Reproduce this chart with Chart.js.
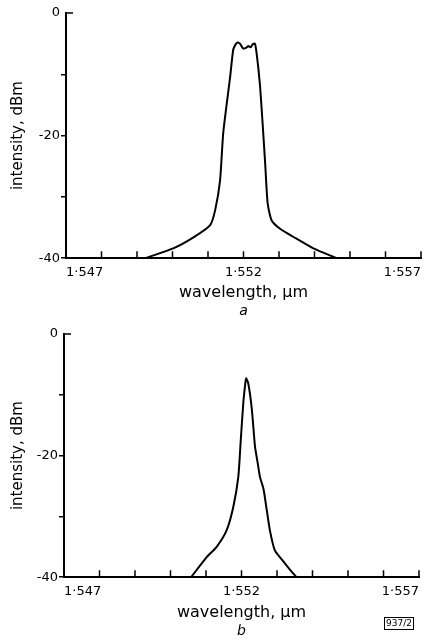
<!DOCTYPE html>
<html>
<head>
<meta charset="utf-8">
<script src="https://cdn.jsdelivr.net/npm/chart.js@4"></script>
<style>
  body { margin: 0; background: #fff; }
  .panel { position: absolute; left: 0; width: 433px; height: 320px; }
  #tag { position: absolute; left: 384px; top: 617px; border: 1px solid #000;
         font: 9px "DejaVu Sans", sans-serif; padding: 0 1px; line-height: 11px; }
</style>
</head>
<body>
<div class="panel" style="top:0"><canvas id="chartA" width="433" height="320"></canvas></div>
<div class="panel" style="top:320px"><canvas id="chartB" width="433" height="320"></canvas></div>
<div id="tag">937/2</div>
<script>
// wavelength in µm, intensity in dBm
const wavelengthA = [1.54923, 1.55002, 1.55059, 1.55106, 1.55120, 1.55134, 1.55143, 1.55162, 1.55171, 1.55177,
                     1.55183, 1.55190, 1.55199, 1.55207, 1.55214, 1.55220, 1.55226, 1.55232, 1.55237, 1.55246,
                     1.55252, 1.55261, 1.55268, 1.55279, 1.55303, 1.55340, 1.55397, 1.55463];
const intensityA  = [-40, -38.4, -36.6, -34.6, -32.2, -27.3, -19.5, -10.6, -6.0, -5.2,
                     -4.8, -5.0, -5.8, -5.7, -5.4, -5.6, -5.1, -5.0, -6.6, -11.5,
                     -16.4, -24.5, -31.0, -33.8, -35.2, -36.5, -38.4, -40];

const wavelengthB = [1.55058, 1.55102, 1.55130, 1.55158, 1.55177, 1.55191, 1.55198, 1.55205, 1.55210, 1.55213,
                     1.55219, 1.55229, 1.55238, 1.55245, 1.55252, 1.55262, 1.55270, 1.55280, 1.55294, 1.55315,
                     1.55337, 1.55355];
const intensityB  = [-40, -36.7, -35.0, -32.3, -28.4, -23.5, -17.4, -11.4, -8.5, -7.3,
                     -8.1, -12.3, -18.5, -21.0, -23.5, -25.5, -28.5, -32.3, -35.6, -37.2,
                     -38.8, -40];

const xMin = 1.547, xMax = 1.557, xStep = 0.001;
const yMin = -40, yMax = 0, yStep = 10;
const xLabelValues = [1.547, 1.552, 1.557];
const yLabelValues = [0, -20, -40];
const xTitle = 'wavelength, µm';
const yTitle = 'intensity, dBm';

const FONT = '"DejaVu Sans", sans-serif';

// inward x ticks and the short right-pointing tick at 0 dB
const tickPlugin = {
  id: 'inwardTicks',
  afterDraw(chart) {
    const { ctx, scales: { x, y } } = chart;
    ctx.save();
    ctx.strokeStyle = '#000';
    ctx.lineWidth = 1.5;
    ctx.beginPath();
    x.ticks.forEach(t => {
      const px = x.getPixelForValue(t.value);
      ctx.moveTo(px, y.bottom);
      ctx.lineTo(px, y.bottom - 7);
    });
    const top = y.getPixelForValue(0);
    ctx.moveTo(x.left, top);
    ctx.lineTo(x.left + 7, top);
    ctx.stroke();
    ctx.restore();
  }
};

function makeChart(id, xs, ys, letter, left, top, right, xHeight) {
  return new Chart(document.getElementById(id), {
    type: 'line',
    data: {
      datasets: [{
        data: xs.map((w, i) => ({ x: w, y: ys[i] })),
        borderColor: '#000',
        borderWidth: 2,
        pointRadius: 0,
        tension: 0.2,
        fill: false
      }]
    },
    options: {
      responsive: false,
      animation: false,
      devicePixelRatio: 1,
      layout: { padding: { top: top, right: right, bottom: 0, left: 0 } },
      plugins: {
        legend: { display: false },
        tooltip: { enabled: false },
        title: {
          display: true, text: letter, position: 'bottom', fullSize: false, color: '#000',
          font: { family: FONT, size: 14, style: 'italic', weight: 'normal' },
          padding: { top: 0, bottom: 0 }
        }
      },
      scales: {
        x: {
          type: 'linear', min: xMin, max: xMax,
          afterFit: s => { s.height = xHeight; },
          border: { display: true, color: '#000', width: 2 },
          grid: { display: false, drawTicks: false },
          ticks: {
            stepSize: xStep, autoSkip: false, maxRotation: 0, align: 'inner',
            color: '#000', padding: 7, font: { family: FONT, size: 13 },
            callback: v => xLabelValues.some(l => Math.abs(l - v) < 1e-6) ? v.toFixed(3).replace('.', '·') : ''
          },
          title: {
            display: true, text: xTitle, color: '#000',
            font: { family: FONT, size: 16 }, padding: { top: 0, bottom: 1 }
          }
        },
        y: {
          min: yMin, max: yMax,
          afterFit: s => { s.width = left; },
          border: { display: true, color: '#000', width: 2 },
          grid: {
            drawOnChartArea: false, drawTicks: true, tickLength: 5, lineWidth: 1.5,
            color: c => (c.tick && c.tick.value === 0) ? 'rgba(0,0,0,0)' : '#000'
          },
          ticks: {
            stepSize: yStep, color: '#000', padding: 1, font: { family: FONT, size: 13 },
            callback: v => yLabelValues.includes(v) ? String(v) : ''
          },
          title: {
            display: true, text: yTitle, color: '#000',
            font: { family: FONT, size: 15 }, padding: { top: 9, bottom: 0 }
          }
        }
      }
    },
    plugins: [tickPlugin]
  });
}

makeChart('chartA', wavelengthA, intensityA, 'a', 66, 13, 12, 45);
makeChart('chartB', wavelengthB, intensityB, 'b', 64, 14, 14, 46);
</script>
</body>
</html>
